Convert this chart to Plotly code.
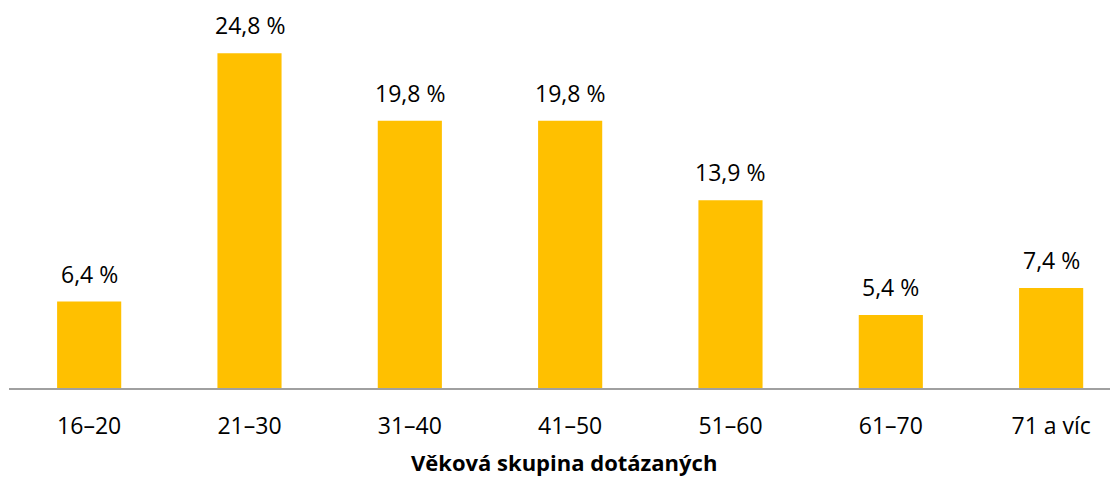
import plotly.graph_objects as go

categories = ["16–20", "21–30", "31–40", "41–50", "51–60", "61–70", "71 a víc"]
values = [6.4, 24.8, 19.8, 19.8, 13.9, 5.4, 7.4]
labels = ["6,4 %", "24,8 %", "19,8 %", "19,8 %", "13,9 %", "5,4 %", "7,4 %"]
x_title = "Věková skupina dotázaných"

FONT = "Open Sans"
# page body has an 8px default margin; figure sized to fill the remaining window
W, H = 1110, 469
ml, mr, mt, mb = 1, 0, 12, 89

fig = go.Figure()
fig.add_trace(go.Bar(
    x=list(range(len(categories))), y=values,
    marker=dict(color="#FFC000", line=dict(width=0)),
    width=0.4, hoverinfo="skip",
))

for i, (v, t) in enumerate(zip(values, labels)):
    fig.add_annotation(x=i, y=v, text=t, showarrow=False, yanchor="bottom",
                       yshift=10, font=dict(family=FONT, size=23, color="#000000"))

plot_h = H - mt - mb
fig.add_annotation(x=0.5, y=-(454 - (H - mb)) / plot_h, xref="paper", yref="paper",
                   text="<b>" + x_title + "</b>", showarrow=False, yanchor="middle",
                   xanchor="center",
                   font=dict(family=FONT, size=22, color="#000000"))

plot_w = W - ml - mr
n = len(categories)
slot = 160.33
xmax = -0.5 + plot_w / slot

fig.update_layout(
    width=W, height=H,
    margin=dict(l=ml, r=mr, t=mt, b=mb),
    paper_bgcolor="white", plot_bgcolor="white",
    showlegend=False,
    xaxis=dict(range=[-0.5, xmax], tickmode="array", tickvals=list(range(n)),
               ticktext=categories, showgrid=False, zeroline=False,
               showline=True, linecolor="#A0A0A0", linewidth=2,
               ticks="outside", ticklen=16, tickcolor="rgba(0,0,0,0)",
               tickfont=dict(family=FONT, size=23, color="#000000"),
               fixedrange=True),
    yaxis=dict(range=[0, plot_h / 13.5], visible=False, showgrid=False,
               zeroline=False, fixedrange=True),
)

fig.write_html("out.html")
